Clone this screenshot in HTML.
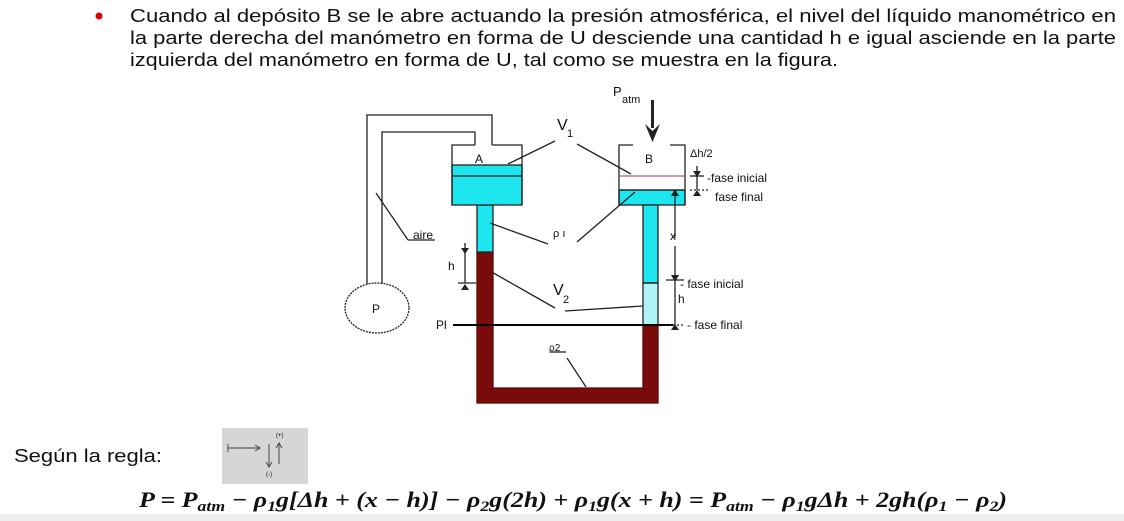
<!DOCTYPE html>
<html><head><meta charset="utf-8"><style>
html,body{margin:0;padding:0;background:#fff;width:1124px;height:521px;overflow:hidden}
svg{display:block}
text{font-family:"Liberation Sans",sans-serif}
text.eq{font-family:"Liberation Serif",serif}
</style></head><body>
<svg width="1124" height="521" viewBox="0 0 1124 521" xmlns="http://www.w3.org/2000/svg">
<circle cx="99" cy="16" r="3.5" fill="#e00000"/>
<g font-size="18" fill="#111">
<text x="130" y="22" textLength="986" lengthAdjust="spacingAndGlyphs">Cuando al depósito B se le abre actuando la presión atmosférica, el nivel del líquido manométrico en</text>
<text x="130" y="44" textLength="986" lengthAdjust="spacingAndGlyphs">la parte derecha del manómetro en forma de U desciende una cantidad h e igual asciende en la parte</text>
<text x="130" y="66" textLength="708" lengthAdjust="spacingAndGlyphs">izquierda del manómetro en forma de U, tal como se muestra en la figura.</text>
</g>
<g stroke="#222" stroke-width="1.3" fill="none">
<path d="M477 252 H493 V388 H643 V325 H658 V403 H477 Z" fill="#7a0b0b" stroke="#5a0808"/>
<rect x="477" y="205" width="16" height="47" fill="#1ee6ef"/>
<rect x="452" y="165" width="70" height="40" fill="#1ee6ef"/>
<line x1="452" y1="176" x2="522" y2="176"/>
<path d="M452 205 V145 H475 M492 145 H522 V205"/>
<path d="M492 145 V115 H367 V290"/>
<path d="M475 145 V132 H382 V290"/>
<ellipse cx="377" cy="308" rx="32" ry="25" fill="#fff" stroke-dasharray="2 1"/>
<rect x="619" y="190" width="66" height="15" fill="#1ee6ef"/>
<rect x="643" y="205" width="15" height="78" fill="#1ee6ef"/>
<rect x="643" y="283" width="15" height="42" fill="#aef4f7"/>
<line x1="643" y1="283" x2="658" y2="283"/>
<path d="M633 145 H619 V205 M670 145 H685 V205"/>
<line x1="619" y1="176" x2="685" y2="176" stroke="#a06080"/>
<line x1="619" y1="190" x2="685" y2="190"/>
<line x1="453" y1="325" x2="673" y2="325" stroke="#000" stroke-width="2"/>
<line x1="508" y1="164" x2="555" y2="141"/>
<line x1="577" y1="144" x2="631" y2="174"/>
<line x1="490" y1="223" x2="548" y2="244"/>
<line x1="577" y1="242" x2="635" y2="192"/>
<line x1="490" y1="271" x2="555" y2="308"/>
<line x1="565" y1="311" x2="643" y2="306"/>
<line x1="376" y1="193" x2="408" y2="240"/>
<line x1="408" y1="240" x2="435" y2="240"/>
<line x1="567" y1="358" x2="586" y2="387"/>
<line x1="551" y1="352" x2="566" y2="352"/>
<line x1="675" y1="192" x2="675" y2="238"/>
<line x1="675" y1="246" x2="675" y2="325"/>
<line x1="697" y1="166" x2="697" y2="190"/>
<line x1="665" y1="325" x2="685" y2="325" stroke-dasharray="2 2"/>
<line x1="666" y1="280" x2="684" y2="280"/>
<line x1="690" y1="176" x2="704" y2="176"/>
<line x1="690" y1="190" x2="710" y2="190" stroke-dasharray="2 2"/>
<line x1="465" y1="243" x2="465" y2="283"/>
<line x1="458" y1="283" x2="476" y2="283"/>
</g>
<g fill="#222">
<path d="M671 196 L675 189 L679 196 Z"/>
<path d="M671 275 L675 282 L679 275 Z"/>
<path d="M671 330 L675 324 L679 330 Z"/>
<path d="M693 171 L697 177 L701 171 Z"/>
<path d="M693 196 L697 190 L701 196 Z"/>
<path d="M461 248 L465 254 L469 248 Z"/>
<path d="M461 290 L465 284 L469 290 Z"/>
<rect x="651" y="100" width="3" height="28"/>
<path d="M645 124 L652.5 142 L660 124 L652.5 131 Z"/>
</g>
<g font-size="12" fill="#111">
<text x="613" y="96" font-size="13">P</text>
<text x="622" y="103" font-size="11">atm</text>
<text x="557" y="130" font-size="16">V</text><text x="567" y="137" font-size="11">1</text>
<text x="475" y="163">A</text>
<text x="645" y="163">B</text>
<text x="690" y="157" font-size="11">Δh/2</text>
<text x="707" y="182">-fase inicial</text>
<text x="715" y="201">fase final</text>
<text x="670" y="240">x</text>
<text x="413" y="239">aire</text>
<text x="553" y="237" font-size="11">ρ ı</text>
<text x="448" y="270">h</text>
<text x="553" y="295" font-size="16">V</text><text x="563" y="303" font-size="11">2</text>
<text x="680" y="288">- fase inicial</text>
<text x="678" y="303">h</text>
<text x="436" y="329">Pl</text>
<text x="372" y="313">P</text>
<text x="687" y="329">-  fase final</text>
<text x="549" y="351" font-size="10">ρ2</text>
</g>
<text x="14" y="462" font-size="18" fill="#111" textLength="148" lengthAdjust="spacingAndGlyphs">Según la regla:</text>
<rect x="222" y="428" width="86" height="56" fill="#d6d6d6"/>
<g stroke="#444" stroke-width="1" fill="none">
<line x1="228" y1="448" x2="259" y2="448"/><line x1="228" y1="444" x2="228" y2="452"/>
<path d="M255 445 L260 448 L255 451"/>
<line x1="269" y1="444" x2="269" y2="466"/><path d="M266 462 L269 467 L272 462"/>
<line x1="279" y1="444" x2="279" y2="464"/><path d="M276 448 L279 443 L282 448"/>
</g>
<text x="276" y="437" font-size="6">(+)</text><text x="266" y="476" font-size="6">(-)</text>
<text class="eq" x="139" y="507" font-size="22" font-weight="bold" font-style="italic" fill="#111" textLength="868" lengthAdjust="spacingAndGlyphs">P = P<tspan font-size="15" dy="4">atm</tspan><tspan dy="-4"> − ρ</tspan><tspan font-size="15" dy="4">1</tspan><tspan dy="-4">g[Δh + (x − h)] − ρ</tspan><tspan font-size="15" dy="4">2</tspan><tspan dy="-4">g(2h) + ρ</tspan><tspan font-size="15" dy="4">1</tspan><tspan dy="-4">g(x + h) = P</tspan><tspan font-size="15" dy="4">atm</tspan><tspan dy="-4"> − ρ</tspan><tspan font-size="15" dy="4">1</tspan><tspan dy="-4">gΔh + 2gh(ρ</tspan><tspan font-size="15" dy="4">1</tspan><tspan dy="-4"> − ρ</tspan><tspan font-size="15" dy="4">2</tspan><tspan dy="-4">)</tspan></text>
<rect x="0" y="514" width="1124" height="7" fill="#eeeeee"/>
</svg>
</body></html>
